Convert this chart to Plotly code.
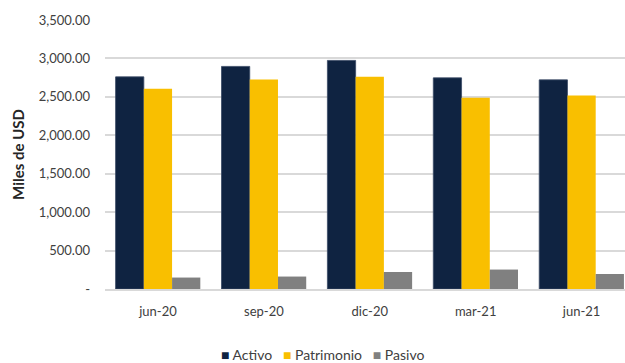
import plotly.graph_objects as go

categories = ["jun-20", "sep-20", "dic-20", "mar-21", "jun-21"]
activo = [2760, 2896, 2974, 2747, 2721]
patrimonio = [2604, 2727, 2760, 2487, 2519]
pasivo = [149, 162, 221, 253, 195]
tick_vals = [0, 500, 1000, 1500, 2000, 2500, 3000, 3500]
tick_text = ["-", "500.00", "1,000.00", "1,500.00", "2,000.00", "2,500.00", "3,000.00", "3,500.00"]
series_names = ["Activo", "Patrimonio", "Pasivo"]
series_colors = ["#0f2341", "#f9bf00", "#808080"]

font = "Lato, 'Open Sans', sans-serif"
fig = go.Figure()
for name, vals, col in zip(series_names, [activo, patrimonio, pasivo], series_colors):
    fig.add_trace(go.Bar(name=name, x=categories, y=vals, marker_color=col,
                         marker_line=dict(color="#3a4a66" if name == "Activo" else col,
                                          width=0.8 if name == "Activo" else 0)))

legend_html = "&nbsp;&nbsp;&nbsp;".join(
    f'<span style="color:{c}">■</span> {n}' for n, c in zip(series_names, series_colors)
)
fig.add_annotation(text=legend_html, xref="paper", yref="paper", x=(322 - 105) / 520,
                   y=-(354 - 289) / 269, xanchor="center", yanchor="middle",
                   showarrow=False, font=dict(family=font, size=14, color="#404040"))

fig.update_layout(
    width=625, height=363,
    margin=dict(l=105, r=0, t=20, b=74),
    plot_bgcolor="white", paper_bgcolor="white",
    barmode="group", bargap=0.2, bargroupgap=0,
    font=dict(family=font, size=13, color="#404040"),
    showlegend=False,
)
fig.update_xaxes(type="category", range=[-0.5, 4.41], showgrid=False,
                 showline=True, linecolor="#d9d9d9", linewidth=1.5,
                 ticks="", ticklabelstandoff=10, tickfont=dict(size=13, color="#404040"))
fig.update_yaxes(range=[0, 3500], tickvals=tick_vals, ticktext=tick_text,
                 showgrid=True, gridcolor="#d9d9d9", gridwidth=1.5,
                 zeroline=False, showline=False, ticks="",
                 ticklabelstandoff=14,
                 tickfont=dict(size=13, color="#404040"),
                 title=dict(text="<b>Miles de USD</b>", font=dict(size=15, color="#262626"),
                            standoff=10))
fig.write_html("out.html")
